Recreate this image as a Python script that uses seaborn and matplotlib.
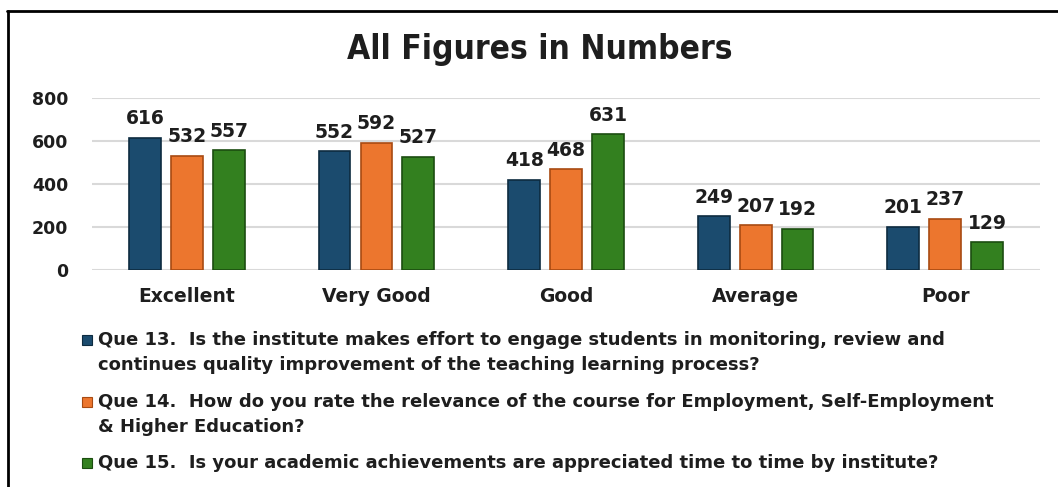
import matplotlib
matplotlib.use("Agg")
import matplotlib.pyplot as plt
import seaborn as sns
import pandas as pd
from matplotlib.patches import Rectangle
from matplotlib.lines import Line2D

# ============================================
# Data
# ============================================
CATEGORIES = ['Excellent', 'Very Good', 'Good', 'Average', 'Poor']
QUE13 = [616, 552, 418, 249, 201]
QUE14 = [532, 592, 468, 207, 237]
QUE15 = [557, 527, 631, 192, 129]
SERIES = ['Que 13', 'Que 14', 'Que 15']
LEGEND_LINES = [
    ["Que 13.  Is the institute makes effort to engage students in monitoring, review and",
     "continues quality improvement of the teaching learning process?"],
    ["Que 14.  How do you rate the relevance of the course for Employment, Self-Employment",
     "& Higher Education?"],
    ["Que 15.  Is your academic achievements are appreciated time to time by institute?"],
]
Y_TICKS = [0, 200, 400, 600, 800]

COLORS = ['#1B4B6E', '#EC762E', '#33801F']
EDGES = ['#0D2B40', '#A84A12', '#1B4D10']

# ============================================
# Build frame
# ============================================
df = pd.DataFrame({
    'category': CATEGORIES * 3,
    'series': [s for s in SERIES for _ in CATEGORIES],
    'value': QUE13 + QUE14 + QUE15,
})

sns.set_style("white")
plt.rcParams['font.family'] = ['DejaVu Sans']

fig = plt.figure(figsize=(10.58, 4.87), dpi=100)
W, H = 1058, 487
ax = fig.add_axes([0.087, 0.4456, 0.896, 0.3532])

sns.barplot(
    data=df, x='category', y='value', hue='series',
    hue_order=SERIES, palette=COLORS, width=0.663, gap=0.24,
    saturation=1, edgecolor='none', ax=ax, legend=False,
)

for cont, ec in zip(ax.containers, EDGES):
    for bar in cont:
        bar.set_edgecolor(ec)
        bar.set_linewidth(1.2)
    ax.bar_label(cont, padding=7, fontsize=13.5, fontweight='bold', color='#1E1E1E')

ax.set_ylim(0, 800)
ax.set_yticks(Y_TICKS)
ax.yaxis.grid(True, color='#D9D9D9', linewidth=1.5)
ax.set_axisbelow(True)
for sp in ax.spines.values():
    sp.set_visible(False)
ax.tick_params(axis='both', length=0)
ax.tick_params(axis='y', pad=17, labelsize=12.5)
ax.tick_params(axis='x', pad=12, labelsize=13.5)
for lab in ax.get_xticklabels() + ax.get_yticklabels():
    lab.set_fontweight('bold')
    lab.set_color('#1E1E1E')
ax.set_xlabel('')
ax.set_ylabel('')
ax.set_xlim(-0.5, 4.5)

fig.text(540 / W, 1 - 50 / H, 'All Figures in Numbers', ha='center', va='center',
         fontsize=24, fontweight='bold', fontstretch='condensed', color='#1E1E1E')

# Legend drawn line by line (two-line entries, square marker on first line)
entry_tops = [340, 402, 463]
line_gap = 25
for lines, color, ec, y0 in zip(LEGEND_LINES, COLORS, EDGES, entry_tops):
    fig.add_artist(Rectangle((82 / W, 1 - (y0 + 5) / H), 10 / W, 10 / H,
                             facecolor=color, edgecolor=ec, lw=0.8,
                             transform=fig.transFigure))
    for k, line in enumerate(lines):
        fig.text(98 / W, 1 - (y0 + k * line_gap) / H, line, ha='left', va='center',
                 fontsize=13, fontweight='bold', color='#1E1E1E')

# Frame lines (top and left)
fig.add_artist(Line2D([0.007, 1.0], [1 - 11 / H, 1 - 11 / H], color='black', lw=2,
                      transform=fig.transFigure))
fig.add_artist(Line2D([8 / W, 8 / W], [0.0, 1 - 11 / H], color='black', lw=2,
                      transform=fig.transFigure))

fig.savefig('out.png', dpi=100)
